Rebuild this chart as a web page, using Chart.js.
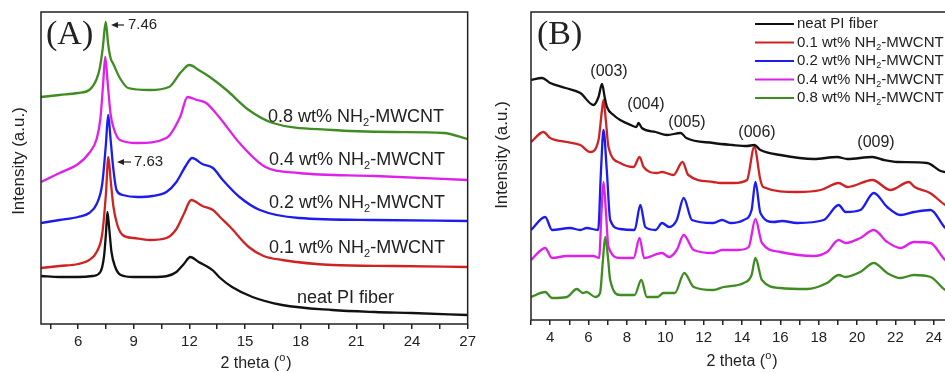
<!DOCTYPE html>
<html>
<head>
<meta charset="utf-8">
<script src="https://cdn.jsdelivr.net/npm/chart.js@4.4.1/dist/chart.umd.min.js"></script>
<style>
html, body { margin: 0; padding: 0; background: #fff; overflow: hidden; width: 945px; height: 373px; }
#chartA { position: absolute; left: 0; top: 0; }
#chartB { position: absolute; left: 480px; top: 0; }
</style>
</head>
<body>
<canvas id="chartA" width="480" height="373"></canvas>
<canvas id="chartB" width="490" height="373"></canvas>
<script>
// ---- panel (A): wide-angle XRD, curves stacked (2 theta, intensity a.u.)
const names = ['neat PI fiber', '0.1 wt% NH2-MWCNT', '0.2 wt% NH2-MWCNT', '0.4 wt% NH2-MWCNT', '0.8 wt% NH2-MWCNT']
const colors = ['#111111', '#cf2323', '#1c1cee', '#de20ea', '#3e8c22']

const aNeatX = [4, 5, 6, 6.8, 7.2, 7.4, 7.5, 7.58, 7.68, 7.8, 8.0, 8.3, 9, 10, 10.8, 11.3, 11.7, 12.05, 12.5, 13.0, 13.3, 13.6, 14.3, 15.4, 17, 19.7, 22, 24, 27]
const aNeatY = [48, 47, 47, 48, 52, 68, 90, 112, 95, 72, 57, 49, 47, 47, 48, 52, 60, 67, 62, 57, 53, 47, 37, 27, 19, 14, 12, 11, 9]
const a01X = [4, 5, 6, 6.6, 7.0, 7.3, 7.5, 7.63, 7.75, 7.9, 8.1, 8.4, 9, 9.85, 10.76, 11.3, 11.7, 12.1, 12.7, 13.27, 13.7, 14.2, 15.2, 16, 17, 19.7, 23, 27]
const a01Y = [56, 58, 60, 64, 72, 90, 130, 167, 145, 118, 100, 89, 86, 84, 86, 95, 110, 124, 118, 114, 106, 97, 77, 68, 64, 59, 58, 57]
const a02X = [4, 5, 6, 6.6, 7.0, 7.3, 7.5, 7.62, 7.75, 7.9, 8.07, 8.4, 9.2, 10.0, 10.76, 11.3, 11.8, 12.15, 12.7, 13.27, 13.8, 14.7, 15.8, 17.9, 22, 27]
const a02Y = [101, 104, 107, 111, 120, 140, 180, 209, 185, 155, 134, 129, 127, 128, 132, 142, 158, 166, 160, 156, 144, 127, 114, 106, 104, 103]
const a04X = [4, 5, 6, 6.6, 7.0, 7.2, 7.35, 7.46, 7.6, 7.75, 7.9, 8.25, 9.2, 10.76, 11.5, 11.9, 12.4, 12.9, 13.6, 14.7, 16.1, 17.9, 22, 27]
const a04Y = [142, 151, 160, 171, 185, 205, 240, 267, 240, 210, 197, 184, 181, 186, 207, 227, 224, 221, 207, 181, 157, 151, 148, 144]
const a08X = [4, 5, 6, 6.6, 7.0, 7.17, 7.33, 7.49, 7.62, 7.75, 7.9, 8.25, 8.7, 9.85, 10.9, 11.55, 12.0, 12.5, 13.1, 14.0, 15.2, 16.5, 19.7, 23, 25.7, 27]
const a08Y = [227, 229, 231, 234, 245, 256, 276, 302, 280, 266, 260, 246, 236, 234, 237, 252, 259, 254, 247, 234, 214, 201, 194, 192, 191, 185]
const aMajor = [6, 9, 12, 15, 18, 21, 24, 27]
const aMinor = [4.5, 7.5, 10.5, 13.5, 16.5, 19.5, 22.5, 25.5]

// ---- panel (B)
const bNeatX = [3, 3.57, 4.0, 4.8, 5.57, 6.26, 6.52, 6.7, 6.85, 6.96, 7.3, 7.65, 8.2, 8.5, 8.6, 8.78, 9.5, 10.1, 10.8, 11.1, 12.5, 13.5, 14.26, 14.64, 14.96, 16, 17.74, 18.96, 19.5, 20.8, 21.4, 22.1, 23.65, 24.35, 25]
const bNeatY = [240, 242, 237, 232, 227, 215, 223, 236, 222, 213, 205, 200, 195, 193, 197, 192, 188, 185, 187, 182, 177, 175, 174, 175, 170, 165, 161, 163, 161, 163, 160, 158, 157, 149, 147]
const b01X = [3, 3.65, 4.0, 4.87, 5.57, 6.09, 6.52, 6.7, 6.78, 6.9, 7.04, 7.65, 8.35, 8.66, 8.87, 9.57, 9.83, 10.43, 10.9, 11.2, 12.5, 12.87, 13.57, 14.26, 14.64, 14.96, 15.1, 16.87, 18.1, 19.04, 19.5, 20.8, 21.74, 22.7, 23.0, 23.8, 24.6, 25]
const b01Y = [178, 188, 182, 178, 175, 168, 180, 210, 220, 200, 173, 157, 153, 163, 153, 147, 148, 145, 158, 145, 138, 137, 137, 140, 173, 140, 133, 128, 130, 137, 133, 140, 130, 138, 133, 127, 115, 112]
const b02X = [3, 3.74, 4.1, 5.04, 5.57, 5.9, 6.5, 6.65, 6.78, 6.95, 7.13, 7.65, 8.4, 8.7, 8.96, 9.5, 9.83, 10.2, 10.6, 10.96, 11.39, 12.5, 12.96, 13.4, 14.09, 14.5, 14.7, 14.96, 15.65, 16.09, 16.87, 18.26, 19.04, 19.4, 20.17, 20.87, 21.57, 22.26, 22.96, 23.83, 24.6, 25]
const b02Y = [90, 103, 90, 92, 90, 92, 90, 150, 190, 150, 100, 91, 90, 115, 93, 90, 97, 93, 100, 122, 100, 97, 100, 97, 100, 110, 138, 107, 98, 99, 97, 100, 115, 108, 110, 127, 113, 105, 108, 110, 92, 88]
const b04X = [3, 3.74, 4.1, 4.87, 6.26, 6.55, 6.68, 6.78, 6.9, 7.04, 7.65, 8.35, 8.66, 8.9, 9.83, 10.2, 10.6, 10.96, 11.48, 12.5, 12.96, 13.8, 14.35, 14.7, 15.04, 16, 17.74, 18.43, 19.04, 19.4, 20.17, 20.87, 21.57, 22.26, 22.96, 23.83, 24.6, 25]
const b04Y = [60, 72, 62, 64, 64, 62, 110, 138, 110, 73, 62, 62, 82, 62, 67, 63, 70, 85, 70, 67, 70, 70, 73, 101, 77, 68, 64, 68, 80, 77, 82, 90, 78, 72, 78, 77, 60, 58]
const b08X = [3, 3.74, 4.1, 4.87, 5.39, 5.7, 5.9, 6.35, 6.6, 6.75, 6.87, 7.0, 7.13, 7.65, 8.4, 8.75, 9.04, 9.6, 9.9, 10.5, 10.99, 11.48, 12.5, 13.04, 14.09, 14.5, 14.7, 15.04, 16, 17.4, 18.43, 19.04, 19.4, 20.17, 20.87, 21.57, 22.26, 22.96, 23.83, 24.6, 25]
const b08Y = [23, 28, 22, 23, 31, 27, 28, 23, 27, 60, 83, 65, 40, 25, 25, 40, 23, 23, 27, 27, 47, 33, 30, 33, 37, 45, 62, 40, 32, 31, 37, 45, 43, 48, 57, 47, 42, 45, 43, 30, 28]
const bMajor = [4, 6, 8, 10, 12, 14, 16, 18, 20, 22, 24]
const bMinor = [3, 5, 7, 9, 11, 13, 15, 17, 19, 21, 23, 25]
const peakNames = ['(003)', '(004)', '(005)', '(006)', '(009)']

const FONT = '"Liberation Sans", Arial, sans-serif'
const SERIF = '"Liberation Serif", "Times New Roman", serif'

function pts(xs, ys) { return xs.map((x, i) => ({ x: x, y: ys[i] })) }

function makeSets(list) {
	return list.map((p, i) => ({
		label: names[i],
		data: pts(p[0], p[1]),
		borderColor: colors[i],
		borderWidth: 2.3,
		pointRadius: 0,
		fill: false,
		cubicInterpolationMode: 'monotone'
	}))
}

// text with NH2 subscript, left aligned, vertically centred
function rich(ctx, txt, x, y, size) {
	ctx.textAlign = 'left'
	ctx.textBaseline = 'middle'
	const i = txt.indexOf('NH2')
	const segs = i < 0 ? [[txt, 0]] : [[txt.slice(0, i + 2), 0], ['2', 1], [txt.slice(i + 3), 0]]
	let cx = x
	for (const [s, sub] of segs) {
		ctx.font = (sub ? Math.round(size * 0.62) : size) + 'px ' + FONT
		ctx.fillText(s, cx, sub ? y + size * 0.33 : y)
		cx += ctx.measureText(s).width
	}
}

function xTitle(ctx, cx, y) {
	ctx.textBaseline = 'middle'
	ctx.textAlign = 'left'
	ctx.font = '16px ' + FONT
	const a = '2 theta (', c = ')'
	const wa = ctx.measureText(a).width, wc = ctx.measureText(c).width
	ctx.font = '11px ' + FONT
	const wb = ctx.measureText('o').width + 1
	let x = cx - (wa + wb + wc) / 2
	ctx.font = '16px ' + FONT
	ctx.fillText(a, x, y)
	ctx.font = '11px ' + FONT
	ctx.fillText('o', x + wa, y - 6)
	ctx.font = '16px ' + FONT
	ctx.fillText(c, x + wa + wb, y)
}

function yTitle(ctx, x, y) {
	ctx.save()
	ctx.translate(x, y)
	ctx.rotate(-Math.PI / 2)
	ctx.textAlign = 'center'
	ctx.textBaseline = 'middle'
	ctx.font = '17px ' + FONT
	ctx.fillText('Intensity (a.u.)', 0, 0)
	ctx.restore()
}

function arrow(ctx, x1, x2, y) {
	ctx.beginPath()
	ctx.moveTo(x1, y)
	ctx.lineTo(x2 + 5, y)
	ctx.lineWidth = 1.2
	ctx.stroke()
	ctx.beginPath()
	ctx.moveTo(x2, y)
	ctx.lineTo(x2 + 7, y - 3)
	ctx.lineTo(x2 + 7, y + 3)
	ctx.closePath()
	ctx.fill()
}

const frame = {
	id: 'frame',
	afterDraw(chart) {
		const a = chart.chartArea, ctx = chart.ctx
		ctx.save()
		ctx.strokeStyle = '#222'
		ctx.lineWidth = 1.5
		ctx.strokeRect(a.left, a.top, a.right - a.left, a.bottom - a.top)
		ctx.restore()
	}
}

function xScale(min, max, major, minor, h) {
	return {
		type: 'linear', min: min, max: max,
		afterBuildTicks: s => { s.ticks = major.concat(minor).sort((p, q) => p - q).map(v => ({ value: v })) },
		afterFit: s => { s.height = h },
		ticks: {
			autoSkip: false, maxRotation: 0, padding: 4, color: '#222',
			font: { family: FONT, size: 15 },
			callback: v => major.includes(v) ? String(v) : ''
		},
		grid: { drawOnChartArea: false, tickLength: 5, color: '#222', lineWidth: 1.5 },
		border: { display: false }
	}
}

const textA = {
	id: 'textA',
	afterDraw(chart) {
		const ctx = chart.ctx
		ctx.save()
		ctx.fillStyle = '#222'
		ctx.strokeStyle = '#222'
		ctx.font = '34px ' + SERIF
		ctx.textAlign = 'left'
		ctx.textBaseline = 'middle'
		ctx.fillText('(A)', 46, 35)
		arrow(ctx, 124, 111, 25)
		arrow(ctx, 131, 117, 162)
		ctx.font = '15px ' + FONT
		ctx.fillText('7.46', 128, 25)
		ctx.fillText('7.63', 134, 162)
		rich(ctx, names[4], 268, 117, 18)
		rich(ctx, names[3], 269, 160, 18)
		rich(ctx, names[2], 269, 203, 18)
		rich(ctx, names[1], 269, 248, 18)
		rich(ctx, names[0], 297, 298, 18)
		xTitle(ctx, 256, 364)
		yTitle(ctx, 19, 161)
		ctx.restore()
	}
}

const textB = {
	id: 'textB',
	afterDraw(chart) {
		const ctx = chart.ctx
		ctx.save()
		ctx.fillStyle = '#222'
		ctx.font = '34px ' + SERIF
		ctx.textAlign = 'left'
		ctx.textBaseline = 'middle'
		ctx.fillText('(B)', 57, 35)
		ctx.font = '16px ' + FONT
		ctx.textAlign = 'center'
		const px = [129, 166, 207, 277, 396], py = [72, 105, 123, 133, 143]
		peakNames.forEach((t, i) => ctx.fillText(t, px[i], py[i]))
		// legend
		names.forEach((t, i) => {
			const y = 24 + i * 18.5
			ctx.strokeStyle = colors[i]
			ctx.lineWidth = 2
			ctx.beginPath()
			ctx.moveTo(275, y)
			ctx.lineTo(314, y)
			ctx.stroke()
			rich(ctx, t, 317, y, 15)
		})
		xTitle(ctx, 262, 362)
		yTitle(ctx, 22, 155)
		ctx.restore()
	}
}

const common = {
	responsive: false,
	animation: false,
	plugins: { legend: { display: false }, tooltip: { enabled: false } }
}

new Chart(document.getElementById('chartA').getContext('2d'), {
	type: 'line',
	data: { datasets: makeSets([[aNeatX, aNeatY], [a01X, a01Y], [a02X, a02Y], [a04X, a04Y], [a08X, a08Y]]) },
	options: Object.assign({}, common, {
		layout: { padding: { left: 41, top: 12, right: 11, bottom: 0 } },
		scales: {
			x: xScale(4, 27, aMajor, aMinor, 49),
			y: { display: false, min: 0, max: 312 }
		}
	}),
	plugins: [frame, textA]
})

new Chart(document.getElementById('chartB').getContext('2d'), {
	type: 'line',
	data: { datasets: makeSets([[bNeatX, bNeatY], [b01X, b01Y], [b02X, b02Y], [b04X, b04Y], [b08X, b08Y]]) },
	options: Object.assign({}, common, {
		layout: { padding: { left: 51, top: 12, right: 17, bottom: 0 } },
		scales: {
			x: xScale(3, 25, bMajor, bMinor, 53),
			y: { display: false, min: 0, max: 308 }
		}
	}),
	plugins: [frame, textB]
})
</script>
</body>
</html>
